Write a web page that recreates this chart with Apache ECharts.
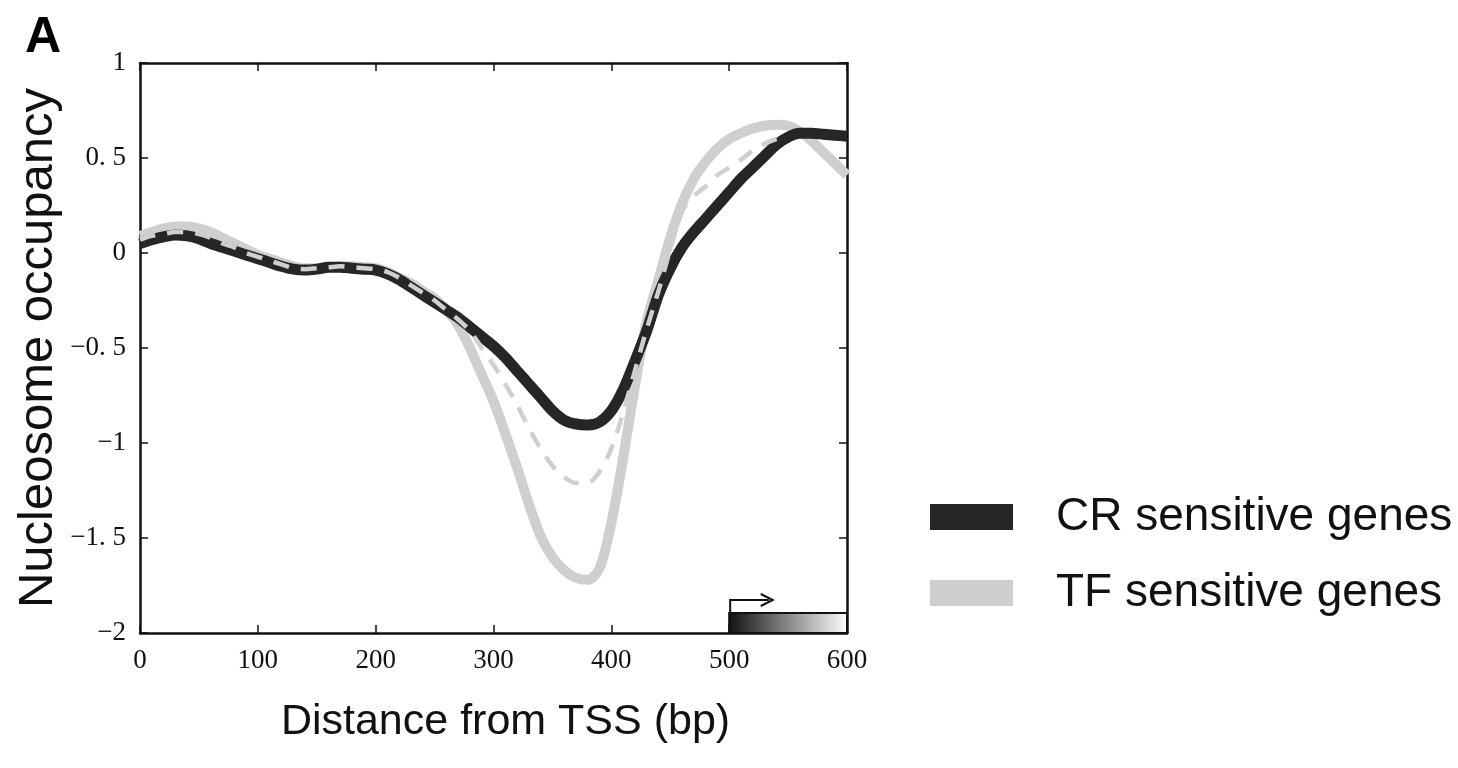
<!DOCTYPE html>
<html>
<head>
<meta charset="utf-8">
<script src="https://cdn.jsdelivr.net/npm/echarts@6/dist/echarts.min.js"></script>
<style>html,body{margin:0;padding:0;background:#fff;}#chart{width:1458px;height:768px;}</style>
</head>
<body>
<div id="chart"></div>
<script>
// Distance from TSS (bp)
const positions = [0,10,20,30,40,50,60,70,80,90,100,110,120,130,140,150,160,170,180,190,200,210,220,230,240,250,260,270,280,290,300,310,320,330,340,350,360,370,380,390,400,410,420,430,440,450,460,470,480,490,500,510,520,530,540,550,560,570,580,590,600];
// CR sensitive genes (black)
const crValues = [0.05,0.07,0.085,0.095,0.09,0.075,0.05,0.03,0.01,-0.01,-0.03,-0.05,-0.07,-0.085,-0.09,-0.085,-0.075,-0.075,-0.08,-0.085,-0.09,-0.11,-0.14,-0.18,-0.22,-0.26,-0.3,-0.34,-0.39,-0.44,-0.49,-0.55,-0.62,-0.69,-0.76,-0.83,-0.88,-0.9,-0.905,-0.89,-0.83,-0.72,-0.57,-0.41,-0.22,-0.08,0.03,0.11,0.18,0.25,0.32,0.39,0.45,0.51,0.57,0.61,0.63,0.63,0.625,0.62,0.615];
// TF sensitive genes (light grey)
const tfValues = [0.09,0.11,0.13,0.14,0.14,0.13,0.11,0.08,0.05,0.02,-0.01,-0.03,-0.05,-0.07,-0.08,-0.08,-0.075,-0.07,-0.07,-0.075,-0.08,-0.1,-0.13,-0.16,-0.2,-0.24,-0.3,-0.38,-0.5,-0.64,-0.78,-0.95,-1.13,-1.32,-1.49,-1.6,-1.67,-1.71,-1.72,-1.66,-1.42,-1.08,-0.7,-0.36,-0.14,0.08,0.26,0.39,0.48,0.55,0.6,0.63,0.655,0.67,0.675,0.67,0.64,0.59,0.53,0.47,0.41];
// Unlabelled dashed grey profile
const dashedPositions = [0,10,20,30,40,50,60,70,80,90,100,110,120,130,140,150,160,170,180,190,200,210,220,230,240,250,260,270,280,290,300,310,320,330,340,350,360,370,380,390,400,410,420,430,440,450,460,470,480,490,500,510,520,530,540,550];
const dashedValues = [0.07,0.09,0.1,0.11,0.11,0.1,0.08,0.05,0.03,0.0,-0.02,-0.04,-0.06,-0.08,-0.085,-0.08,-0.075,-0.07,-0.075,-0.08,-0.085,-0.1,-0.13,-0.17,-0.21,-0.25,-0.3,-0.35,-0.41,-0.5,-0.59,-0.69,-0.8,-0.92,-1.03,-1.12,-1.18,-1.21,-1.21,-1.15,-1.03,-0.84,-0.62,-0.4,-0.2,0.02,0.22,0.3,0.35,0.41,0.45,0.49,0.54,0.575,0.6,0.615];
// TSS marker: gene box start, end, and arrow tip (bp)
const tssMarker = [[500, 600, 537]];
const seriesNames = ['CR sensitive genes', 'TF sensitive genes'];

const toPairs = (xs, ys) => xs.map((x, i) => [x, ys[i]]);
const serif = 'Liberation Serif';
const sans = 'Liberation Sans';
const yFmt = v => v === 0 ? '0' : (v < 0 ? '\u2212' : '') + String(Math.abs(v)).replace('.', '. ');

const chart = echarts.init(document.getElementById('chart'), null, {renderer: 'canvas'});
const axisLine = {show: true, onZero: false, lineStyle: {color: '#111', width: 2.5}};
const axisTick = {inside: true, length: 8, lineStyle: {color: '#111', width: 1.5}};
chart.setOption({
  animation: false,
  backgroundColor: '#fff',
  title: {text: 'A', left: 20, top: 8, textStyle: {fontFamily: sans, fontWeight: 'bold', fontSize: 50, color: '#000'}},
  grid: {left: 140, top: 63, width: 707, height: 570},
  legend: {
    data: seriesNames, orient: 'vertical', left: 925, top: 489,
    icon: 'rect', itemWidth: 83, itemHeight: 26, itemGap: 30,
    textStyle: {fontFamily: sans, fontSize: 46, color: '#111', lineHeight: 26, padding: [0, 0, 0, 38]}
  },
  xAxis: [
    {type: 'value', min: 0, max: 600, interval: 100, position: 'bottom',
     axisLine, axisTick,
     axisLabel: {fontFamily: serif, fontSize: 27, color: '#111', margin: 14},
     splitLine: {show: false},
     name: 'Distance from TSS (bp)', nameLocation: 'middle', nameGap: 68,
     nameTextStyle: {fontFamily: sans, fontSize: 43, color: '#111', padding: [0, 0, 0, 24]}},
    {type: 'value', min: 0, max: 600, interval: 100, position: 'top',
     axisLine, axisTick, axisLabel: {show: false}, splitLine: {show: false}}
  ],
  yAxis: [
    {type: 'value', min: -2, max: 1, interval: 0.5, position: 'left',
     axisLine, axisTick,
     axisLabel: {fontFamily: serif, fontSize: 27, color: '#111', margin: 14, formatter: yFmt},
     splitLine: {show: false},
     name: 'Nucleosome occupancy', nameLocation: 'middle', nameGap: 77,
     nameTextStyle: {fontFamily: sans, fontSize: 49, color: '#111'}},
    {type: 'value', min: -2, max: 1, interval: 0.5, position: 'right',
     axisLine, axisTick, axisLabel: {show: false}, splitLine: {show: false}}
  ],
  series: [
    {name: seriesNames[1], type: 'line', data: toPairs(positions, tfValues), smooth: 0.3,
     showSymbol: false, color: '#cfcfcf', lineStyle: {color: '#cfcfcf', width: 10}, z: 2},
    {name: seriesNames[0], type: 'line', data: toPairs(positions, crValues), smooth: 0.3,
     showSymbol: false, color: '#262626', lineStyle: {color: '#262626', width: 11}, z: 3},
    {name: 'dashed', type: 'line', data: toPairs(dashedPositions, dashedValues), smooth: 0.3,
     showSymbol: false, color: '#cfcfcf', lineStyle: {color: '#cfcfcf', width: 4.5, type: [16, 12]}, z: 4},
    {name: 'TSS', type: 'custom', data: tssMarker, z: 5, clip: false,
     renderItem: (params, api) => {
       const a = api.coord([api.value(0), -2]);
       const b = api.coord([api.value(1), -2]);
       const tip = api.coord([api.value(2), -2]);
       const top = a[1] - 20, armY = a[1] - 33;
       return {type: 'group', children: [
         {type: 'rect', shape: {x: a[0], y: top, width: b[0] - a[0], height: 20},
          style: {fill: new echarts.graphic.LinearGradient(0, 0, 1, 0, [{offset: 0, color: '#111'}, {offset: 1, color: '#ffffff'}]), stroke: '#111', lineWidth: 2}},
         {type: 'polyline', shape: {points: [[a[0] + 1, top], [a[0] + 1, armY], [tip[0] - 4, armY]]},
          style: {stroke: '#111', lineWidth: 2, fill: null}},
         {type: 'polyline', shape: {points: [[tip[0] - 12, armY - 6], [tip[0], armY], [tip[0] - 12, armY + 6]]},
          style: {stroke: '#111', lineWidth: 2, fill: null}}
       ]};
     }}
  ]
});
</script>
</body>
</html>
